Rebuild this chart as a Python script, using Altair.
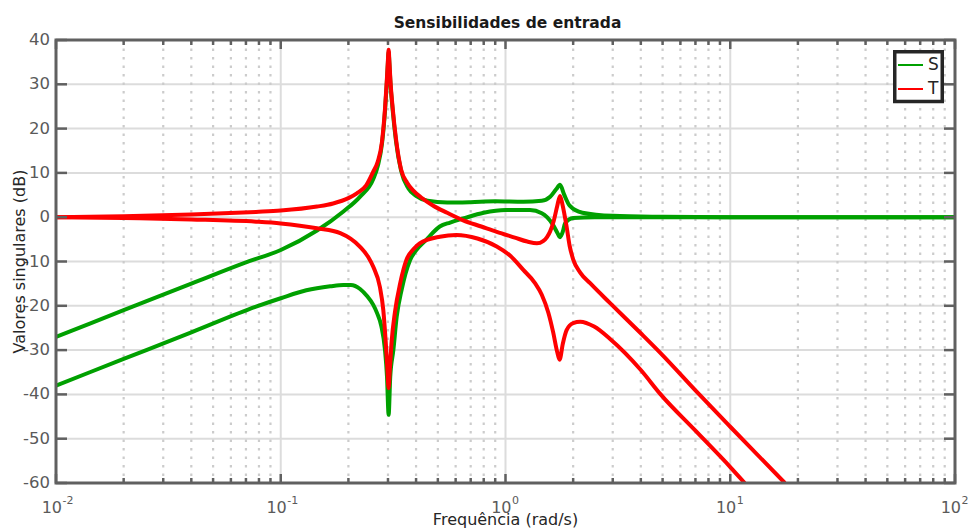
import altair as alt
import pandas as pd

# ---------------- data ----------------
x_major = [0.01, 0.1, 1, 10, 100]
x_exp = ["-2", "-1", "0", "1", "2"]
x_minor = [0.02, 0.03, 0.04, 0.05, 0.06, 0.07, 0.08, 0.09,
           0.2, 0.3, 0.4, 0.5, 0.6, 0.7, 0.8, 0.9,
           2, 3, 4, 5, 6, 7, 8, 9,
           20, 30, 40, 50, 60, 70, 80, 90]
y_major = [-60, -50, -40, -30, -20, -10, 0, 10, 20, 30, 40]

title_text = "Sensibilidades de entrada"
x_title = "Frequência (rad/s)"
y_title = "Valores singulares (dB)"

# S, largest singular value (green)
s_max_f = [0.01, 0.02, 0.04, 0.07, 0.1, 0.145, 0.19, 0.225, 0.258, 0.27, 0.282, 0.291,
           0.2965, 0.2995, 0.302, 0.3045, 0.3075, 0.315, 0.326, 0.343, 0.37, 0.40, 0.45,
           0.55, 0.7, 0.9, 1.2, 1.45, 1.58, 1.68, 1.748, 1.82, 1.93, 2.2, 3.0, 5.0, 10, 100]
s_max_db = [-27.0, -21.0, -15.0, -10.2, -7.4, -3.0, 1.3, 4.6, 8.6, 11.5, 16.5, 24.0,
            30.5, 34.5, 37.3, 34.5, 30.5, 24.0, 17.0, 10.5, 6.5, 4.8, 3.7,
            3.3, 3.4, 3.6, 3.5, 3.7, 4.6, 6.3, 7.3, 5.2, 2.6, 1.0, 0.3, 0.1, 0.0, 0.0]

# S, smallest singular value (green)
s_min_f = [0.01, 0.02, 0.04, 0.0776, 0.1, 0.13, 0.166, 0.19, 0.205, 0.2254, 0.242, 0.258,
           0.268, 0.28, 0.291, 0.297, 0.302, 0.307, 0.317, 0.328, 0.345, 0.376, 0.40,
           0.444, 0.51, 0.567, 0.648, 0.8, 1.0, 1.285, 1.45, 1.53, 1.63, 1.70, 1.748,
           1.80, 1.84, 2.0, 2.5, 100]
s_min_db = [-38.0, -32.0, -26.0, -20.2, -18.3, -16.5, -15.6, -15.3, -15.3, -16.2, -17.8, -19.8,
            -21.6, -24.5, -30.0, -36.0, -44.6, -36.0, -30.0, -22.5, -16.4, -9.7, -7.5,
            -5.1, -2.1, -1.2, -0.3, 1.0, 1.6, 1.6, 0.9, 0.0, -1.8, -3.5, -4.5,
            -3.2, -1.4, -0.2, 0.0, 0.0]

# T, largest singular value (red)
t_max_f = [0.01, 0.02, 0.04, 0.0776, 0.1, 0.145, 0.171, 0.2, 0.218, 0.24, 0.258, 0.27,
           0.282, 0.291, 0.2965, 0.2995, 0.302, 0.3045, 0.3075, 0.315, 0.326, 0.343,
           0.365, 0.389, 0.42, 0.477, 0.55, 0.648, 0.78, 0.914, 1.1, 1.25, 1.38, 1.47,
           1.53, 1.58, 1.64, 1.70, 1.748, 1.79, 1.87, 1.93, 2.0, 2.15, 2.38, 2.92, 4.0,
           4.86, 7.28, 10.0, 17.5]
t_max_db = [0.0, 0.2, 0.6, 1.2, 1.5, 2.4, 3.1, 4.3, 5.4, 7.2, 10.3, 12.5,
            17.0, 24.5, 31.0, 35.0, 37.8, 35.0, 31.0, 24.5, 17.5, 10.8,
            7.8, 6.0, 4.5, 2.6, 1.0, -0.7, -2.1, -3.3, -4.6, -5.5, -5.9, -5.4,
            -4.5, -3.2, -0.8, 2.6, 4.8, 3.0, -2.1, -6.5, -9.5, -12.5, -14.9, -19.4, -26.2,
            -30.5, -40.0, -47.3, -60.0]

# T, smallest singular value (red)
t_min_f = [0.01, 0.02, 0.04, 0.0776, 0.1, 0.145, 0.184, 0.2254, 0.245, 0.258, 0.276, 0.286,
           0.293, 0.298, 0.302, 0.306, 0.3115, 0.322, 0.34, 0.362, 0.39, 0.415, 0.51,
           0.604, 0.75, 0.914, 1.05, 1.2, 1.35, 1.45, 1.55, 1.63, 1.70, 1.74, 1.8, 1.87,
           2.0, 2.15, 2.48, 2.92, 4.0, 4.9, 7.0, 10.0, 11.6]
t_min_db = [0.0, -0.2, -0.5, -1.0, -1.4, -2.5, -3.6, -6.7, -9.0, -11.2, -15.7, -21.0,
            -28.0, -34.0, -38.6, -34.0, -28.0, -21.5, -14.9, -9.7, -7.2, -5.9, -4.4,
            -4.0, -4.8, -6.6, -8.7, -11.9, -14.8, -17.5, -21.5, -26.0, -30.5, -32.2, -28.5, -25.5,
            -23.9, -23.6, -24.7, -27.5, -34.5, -40.0, -48.2, -56.4, -60.0]

groups = ["S", "T"]
series = [
    ("S_max", "S", s_max_f, s_max_db),
    ("S_min", "S", s_min_f, s_min_db),
    ("T_max", "T", t_max_f, t_max_db),
    ("T_min", "T", t_min_f, t_min_db),
]
rows = []
for name, grp, fs, ds in series:
    for f, d in zip(fs, ds):
        rows.append({"curva": name, "grupo": grp, "f": f, "db": d})
df = pd.DataFrame(rows)

# ---------------- style ----------------
W, H = 899, 443
FONT = "DejaVu Sans"
GREEN = "#00a000"
RED = "#ff0000"
GRID = "#dcdcdc"
FRAME = "#606060"
TICKLAB = "#5a5a5a"
TXT = "#262626"

xs = alt.Scale(type="log", domain=[0.01, 100], nice=False)
ys = alt.Scale(domain=[-60, 40], nice=False, zero=False)
xf = alt.X("f:Q", scale=xs, axis=None)
yv = alt.Y("v:Q", scale=ys, axis=None)

xmaj = alt.Chart(pd.DataFrame({"f": x_major, "base": ["10"] * len(x_major), "exp": x_exp}))
xmin = alt.Chart(pd.DataFrame({"f": x_minor}))
ymaj = alt.Chart(pd.DataFrame({"v": y_major, "lab": [str(v) for v in y_major]}))
one = pd.DataFrame({"t": [title_text], "xt": [x_title], "yt": [y_title]})

# grids
grid_x = xmaj.mark_rule(color=GRID, strokeWidth=2).encode(x=xf, y=alt.value(0), y2=alt.value(H))
grid_y = ymaj.mark_rule(color=GRID, strokeWidth=2).encode(y=yv, x=alt.value(0), x2=alt.value(W))
minor_grid = xmin.mark_rule(color="#cccccc", strokeWidth=2.2, strokeDash=[2.5, 6]).encode(
    x=xf, y=alt.value(0), y2=alt.value(H))

legend = alt.Legend(
    title=None, orient="none", legendX=841, legendY=11.5, direction="vertical",
    symbolType="stroke", symbolSize=625, symbolStrokeWidth=2,
    labelFont=FONT, labelFontSize=17, labelColor=TXT, labelOffset=4,
    rowPadding=2, padding=0,
)
color = alt.Color("grupo:N", scale=alt.Scale(domain=groups, range=[GREEN, RED]), legend=legend)

base = alt.Chart(df)
green = base.transform_filter(alt.datum.grupo == "S").mark_line(
    strokeWidth=4, interpolate="monotone", clip=True
).encode(
    x=alt.X("f:Q", scale=xs, axis=None),
    y=alt.Y("db:Q", scale=ys, axis=None),
    color=color, detail="curva:N",
)
red = base.transform_filter(alt.datum.grupo == "T").mark_line(
    strokeWidth=4, interpolate="monotone", clip=True
).encode(
    x=alt.X("f:Q", scale=xs, axis=None),
    y=alt.Y("db:Q", scale=ys, axis=None),
    color=color, detail="curva:N",
)

frame = alt.Chart(pd.DataFrame({"a": [0]})).mark_rect(
    filled=False, stroke=FRAME, strokeWidth=3
).encode(x=alt.value(0), x2=alt.value(W), y=alt.value(0), y2=alt.value(H))

tick = dict(color=FRAME, strokeWidth=2.5)
ticks = [
    xmaj.mark_rule(**tick).encode(x=xf, y=alt.value(H), y2=alt.value(H - 9)),
    xmaj.mark_rule(**tick).encode(x=xf, y=alt.value(0), y2=alt.value(9)),
    xmin.mark_rule(**tick).encode(x=xf, y=alt.value(H), y2=alt.value(H - 5)),
    xmin.mark_rule(**tick).encode(x=xf, y=alt.value(0), y2=alt.value(5)),
    ymaj.mark_rule(**tick).encode(y=yv, x=alt.value(0), x2=alt.value(11)),
    ymaj.mark_rule(**tick).encode(y=yv, x=alt.value(W), x2=alt.value(W - 11)),
]

# tick labels
ylabels = ymaj.mark_text(font=FONT, fontSize=16.5, color=TICKLAB, align="right", baseline="middle").encode(
    y=yv, x=alt.value(-6), text="lab:N")
xlab_base = xmaj.mark_text(font=FONT, fontSize=16, color=TICKLAB, align="right", baseline="alphabetic", dx=6).encode(
    x=xf, y=alt.value(H + 30), text="base:N")
xlab_exp = xmaj.mark_text(font=FONT, fontSize=11, color=TICKLAB, align="left", baseline="alphabetic", dx=6.5).encode(
    x=xf, y=alt.value(H + 21), text="exp:N")

# titles
tchart = alt.Chart(one)
main_title = tchart.mark_text(font=FONT, fontSize=15.5, fontWeight="bold", color="#1a1a1a",
                              align="center", baseline="alphabetic").encode(
    x=alt.value(W / 2 + 2), y=alt.value(-12), text="t:N")
xtitle = tchart.mark_text(font=FONT, fontSize=16, color=TXT, align="center", baseline="alphabetic").encode(
    x=alt.value(W / 2), y=alt.value(H + 42), text="xt:N")
ytitle = tchart.mark_text(font=FONT, fontSize=16, color=TXT, align="center", baseline="middle", angle=270).encode(
    x=alt.value(-36), y=alt.value(H / 2), text="yt:N")

legend_box = alt.Chart(pd.DataFrame({"a": [0]})).mark_rect(
    fill="white", stroke=TXT, strokeWidth=3.5
).encode(x=alt.value(838.75), x2=alt.value(886.25), y=alt.value(11.75), y2=alt.value(61.5))

chart = alt.layer(
    grid_x, grid_y, minor_grid, green, red, frame, *ticks, legend_box,
    ylabels, xlab_base, xlab_exp, xtitle, ytitle, main_title,
).properties(
    width=W, height=H,
    autosize=alt.AutoSizeParams(type="none"),
    padding={"left": 56, "top": 40, "right": 18, "bottom": 46},
).configure_view(stroke="transparent")

chart.save("out.html", embed_options={"renderer": "svg", "actions": False})
